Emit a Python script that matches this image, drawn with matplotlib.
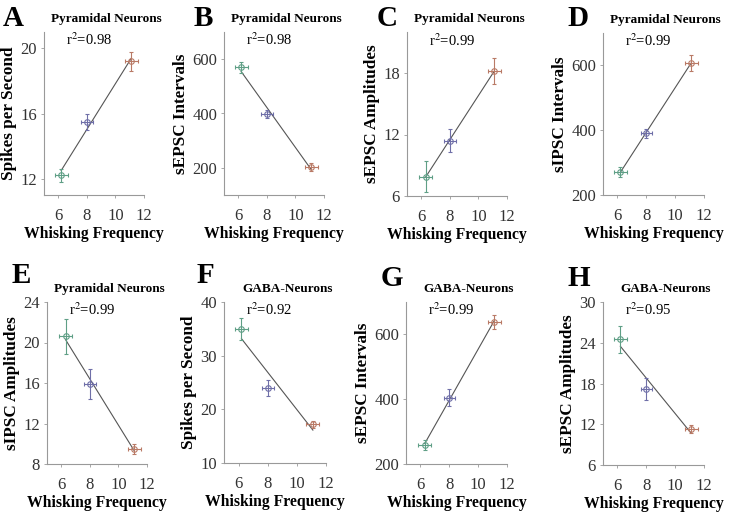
import numpy as np
import matplotlib.pyplot as plt

plt.rcParams['font.family'] = ['Liberation Serif', 'DejaVu Serif']
plt.rcParams['mathtext.fontset'] = 'stix'

# panel data (green, blue, red groups)
letters = ["A", "B", "C", "D", "E", "F", "G", "H"]
titles = ["Pyramidal Neurons"] * 5 + ["GABA-Neurons"] * 3
ylabels = ["Spikes per Second", "sEPSC Intervals", "sEPSC Amplitudes", "sIPSC Intervals",
           "sIPSC Amplitudes", "Spikes per Second", "sEPSC Intervals", "sEPSC Amplitudes"]
r2_text = ["0.98", "0.98", "0.99", "0.99", "0.99", "0.92", "0.99", "0.95"]

freq_x = [[6.2, 8.0, 11.1], [6.2, 8.0, 11.1], [6.3, 8.0, 11.1], [6.2, 8.0, 11.1],
          [6.3, 8.0, 11.1], [6.2, 8.0, 11.1], [6.3, 8.0, 11.1], [6.2, 8.0, 11.1]]
freq_err = [0.45, 0.4, 0.45]
vals_y = [[12.2, 15.5, 19.2], [570, 398, 203], [7.9, 11.4, 18.2], [272, 390, 608],
          [20.6, 15.9, 9.5], [35.0, 24.0, 17.2], [258, 405, 638], [24.5, 17.2, 11.3]]
vals_err = [[0.4, 0.5, 0.6], [20, 15, 15], [1.5, 1.1, 1.3], [15, 15, 25],
            [1.7, 1.5, 0.5], [2.0, 1.5, 0.7], [15, 25, 22], [2.0, 1.6, 0.6]]

ylims = [(11, 21), (100, 700), (6, 22), (200, 700), (8, 24), (10, 40), (200, 700), (6, 30)]
yticks = [[12, 16, 20], [200, 400, 600], [6, 12, 18], [200, 400, 600],
          [8, 12, 16, 20, 24], [10, 20, 30, 40], [200, 400, 600], [6, 12, 18, 24, 30]]
xticks = [6, 8, 10, 12]

colors = ["#5f9f86", "#6f6fa8", "#b97a66"]

# axes boxes in pixels: left, right, top, bottom
W, H = 736, 513
boxes = [(44, 144, 32, 195), (224, 324, 32, 195), (407, 507, 32, 196), (603, 704, 33, 195),
         (47, 147, 302, 464), (224, 326, 302, 463), (406, 507, 302, 464), (603, 704, 302, 465)]
letter_pos = [(3, 5), (194, 5), (377, 5), (567, 5), (12, 262), (197, 262), (381, 265), (567, 265)]

fig = plt.figure(figsize=(W / 100, H / 100), dpi=100)

for i in range(8):
    l, r, t, b = boxes[i]
    ax = fig.add_axes([l / W, 1 - b / H, (r - l) / W, (b - t) / H])
    x = np.array(freq_x[i])
    y = np.array(vals_y[i])
    k, c = np.polyfit(x, y, 1)
    ax.plot([x[0], x[-1]], [k * x[0] + c, k * x[-1] + c], color="#555555", lw=0.8, zorder=1)
    for j in range(3):
        ax.errorbar(x[j], y[j], xerr=freq_err[j], yerr=vals_err[i][j], fmt="o",
                    mfc="none", mec=colors[j], ms=4, mew=0.8, ecolor=colors[j],
                    elinewidth=0.8, capsize=1.5, capthick=0.8, zorder=2)
    ax.set_xlim(5, 12)
    ax.set_ylim(*ylims[i])
    ax.set_xticks(xticks)
    ax.set_yticks(yticks[i])
    for s in ["top", "right"]:
        ax.spines[s].set_visible(False)
    for s in ["left", "bottom"]:
        ax.spines[s].set_color("#999999")
        ax.spines[s].set_linewidth(0.8)
    ax.tick_params(length=2.5, width=0.6, color="#999999", labelsize=12,
                   labelcolor="#333333")
    ax.tick_params(axis="x", pad=7)
    ax.tick_params(axis="y", pad=2.5)
    ax.set_xlabel("Whisking Frequency", fontsize=11.3, fontweight="bold", labelpad=1)
    ax.set_ylabel(ylabels[i], fontsize=12.3, fontweight="bold", labelpad=2.5)
    ax.text(0.62, 1.08, titles[i], transform=ax.transAxes, ha="center", va="center",
            fontsize=9.5, fontweight="bold")
    ax.text(0.22, 0.95, "r$^2$=" + r2_text[i], transform=ax.transAxes, ha="left",
            va="center", fontsize=10.5)
    lx, ly = letter_pos[i]
    fig.text(lx / W, 1 - ly / H, letters[i], ha="left", va="top", fontsize=21,
             fontweight="bold")

fig.savefig("out.png", dpi=100)
